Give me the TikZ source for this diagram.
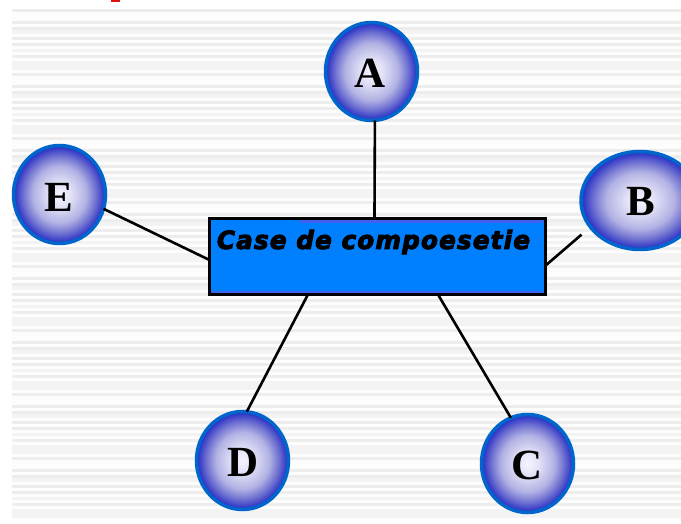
\documentclass[tikz,border=0pt]{standalone}
\usepackage{graphicx}
\usepackage{fontspec}
\setmainfont{Liberation Serif}
\newfontfamily\capfont[FakeBold=4,LetterSpace=5]{DejaVu Sans}
\usetikzlibrary{shapes.geometric,calc}
\definecolor{stripedark}{HTML}{EDEDED}
\definecolor{stripelight}{HTML}{F3F3F3}
\definecolor{tilebase}{HTML}{FDFDFD}
\definecolor{ringblue}{HTML}{0066CC}
\definecolor{boxblue}{HTML}{0080FF}
\definecolor{boxedge}{HTML}{4060F0}
\definecolor{markred}{HTML}{E01010}
\definecolor{ballA}{HTML}{F4F4FF}
\definecolor{ballB}{HTML}{E2E2F7}
\definecolor{ballC}{HTML}{B2B2E4}
\definecolor{ballD}{HTML}{6C6ED0}
\definecolor{ballE}{HTML}{383EC8}
\definecolor{ballF}{HTML}{2030C8}
\pgfdeclareradialshading{ball}{\pgfpoint{0bp}{0bp}}{%
  color(0bp)=(ballA);
  color(6bp)=(ballB);
  color(14.5bp)=(ballC);
  color(20bp)=(ballD);
  color(23.5bp)=(ballE);
  color(25bp)=(ballF);
  color(50bp)=(ballF)}
\tikzset{
  ballnode/.style={ellipse,inner sep=0pt,outer sep=0pt,draw=ringblue,line width=3.5pt,shading=ball},
  letternode/.style={inner sep=0pt,font=\bfseries\fontsize{43}{43}\selectfont,text=black},
  capbox/.style={rectangle,inner sep=0pt,outer sep=0pt,draw=black,line width=3pt,fill=boxblue,minimum width=336pt,minimum height=76pt},
  wire/.style={draw=black,line width=2.6pt},
}
\begin{document}
\begin{tikzpicture}[x=1pt,y=-1pt]
\useasboundingbox (0,0) rectangle (681,524);
% striped tile background, period 64
\begin{scope}
\clip (12,9) rectangle (681,521);
\fill[tilebase] (12,9) rectangle (681,521);
\foreach \k in {0,...,7}{
  \foreach \a/\h/\c in {0/3/stripedark,12/3/stripedark,18/3/stripedark,21/4/stripelight,28/3/stripedark,34/3/stripedark,40/3/stripelight,46/3/stripedark,52/9/stripelight}{
    \fill[\c] (12,{9+64*\k+\a}) rectangle (681,{9+64*\k+\a+\h});
  }
}
\end{scope}
\fill[markred] (111,0) rectangle (120,2);
% nodes
\node[capbox] (box) at (377.5,256.5) {};
\node[ballnode,minimum width=92pt,minimum height=98pt] (A) at (371.5,71.5) {};
\node[ballnode,minimum width=118pt,minimum height=98pt] (B) at (640,200.5) {};
\node[ballnode,minimum width=92pt,minimum height=98pt] (C) at (527.5,463.5) {};
\node[ballnode,minimum width=92pt,minimum height=98pt] (D) at (242.5,460.5) {};
\node[ballnode,minimum width=92pt,minimum height=98pt] (E) at (59.5,194.5) {};
\node[letternode] (la) at (370,73) {A};
\node[letternode] (lb) at (641,201) {B};
\node[letternode] (lc) at (527,465) {C};
\node[letternode] (ld) at (243,462) {D};
\node[letternode] (le) at (59,197) {E};
% box inner edge tints
\fill[boxedge] (300,220) rectangle (543,223);
\fill[boxedge] (211,291) rectangle (543,293);
\node[inner sep=0pt] (cap) at (373.5,242) {\resizebox{313pt}{19pt}{\capfont\bfseries\itshape Case de compoesetie}};
% connectors
\coordinate (na) at ($(box.north west)!0.491!(box.north east)$);
\coordinate (sc) at ($(box.south west)!0.68!(box.south east)$);
\coordinate (sd) at ($(box.south west)!0.293!(box.south east)$);
\coordinate (we) at ($(box.north west)!0.546!(box.south west)$);
\coordinate (eb) at ($(box.north east)!0.62!(box.south east)$);
\draw[wire] (A.-86.6) -- (na);
\draw[wire] (E.-18) -- (we);
\draw[wire] (eb) -- ($(eb)+(36,-31)$) coordinate (bfree);
\draw[wire] (sc) -- (C.110);
\draw[wire] (sd) -- (D.85);
\end{tikzpicture}
\end{document}
